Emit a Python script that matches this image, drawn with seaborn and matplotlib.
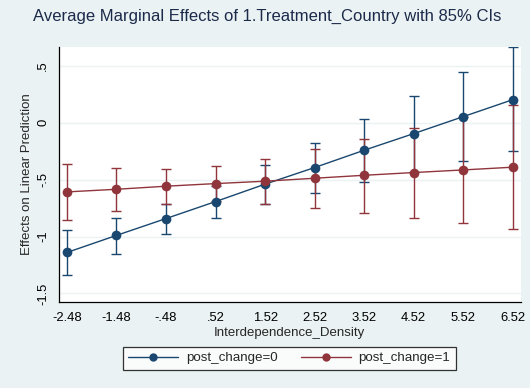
import numpy as np
import pandas as pd
import matplotlib
matplotlib.use("Agg")
import matplotlib.pyplot as plt
import seaborn as sns
from matplotlib.lines import Line2D

# ---- data ----
density = [-2.48, -1.48, -0.48, 0.52, 1.52, 2.52, 3.52, 4.52, 5.52, 6.52]
tick_labels = ["-2.48", "-1.48", "-.48", ".52", "1.52", "2.52", "3.52", "4.52", "5.52", "6.52"]

est_0 = [-1.140, -0.990, -0.842, -0.693, -0.540, -0.394, -0.242, -0.096, 0.053, 0.202]
lo_0 = [-1.342, -1.149, -0.976, -0.833, -0.713, -0.614, -0.520, -0.430, -0.339, -0.251]
hi_0 = [-0.944, -0.836, -0.710, -0.553, -0.371, -0.175, 0.030, 0.237, 0.447, 0.661]

est_1 = [-0.608, -0.585, -0.558, -0.535, -0.514, -0.488, -0.462, -0.438, -0.415, -0.391]
lo_1 = [-0.853, -0.775, -0.713, -0.690, -0.710, -0.745, -0.789, -0.833, -0.883, -0.935]
hi_1 = [-0.365, -0.395, -0.406, -0.377, -0.318, -0.234, -0.143, -0.044, 0.053, 0.153]

y_ticks = [0.5, 0, -0.5, -1, -1.5]
y_tick_labels = [".5", "0", "-.5", "-1", "-1.5"]

groups = ["post_change=0", "post_change=1"]
colors = {"post_change=0": "#1A476F", "post_change=1": "#90353B"}

df = pd.DataFrame({
    "density": density * 2,
    "effect": est_0 + est_1,
    "lo": lo_0 + lo_1,
    "hi": hi_0 + hi_1,
    "group": [groups[0]] * len(density) + [groups[1]] * len(density),
})

# ---- figure ----
sns.set_style("white")
plt.rcParams["font.family"] = ["Liberation Sans", "DejaVu Sans"]

bg = "#EAF2F3"
fig = plt.figure(figsize=(5.3, 3.88), dpi=100, facecolor=bg)
ax = fig.add_axes([0.1113, 0.2216, 0.8712, 0.658])
ax.set_facecolor("white")

# confidence intervals (caps)
for g in groups:
    sub = df[df["group"] == g]
    yerr = [sub["effect"] - sub["lo"], sub["hi"] - sub["effect"]]
    ax.errorbar(sub["density"], sub["effect"], yerr=yerr, fmt="none",
                ecolor=colors[g], elinewidth=1.0, capsize=3.5, capthick=1.0,
                zorder=2)

# connected point estimates
sns.lineplot(data=df, x="density", y="effect", hue="group", palette=colors,
             marker="o", markersize=7, markeredgewidth=0, linewidth=1.0,
             ax=ax, zorder=3, legend=False)

ax.set_xlim(-2.64, 6.68)
ax.set_ylim(-1.575, 0.667)
ax.set_xticks(density)
ax.set_xticklabels(tick_labels)
ax.set_yticks(y_ticks)
ax.set_yticklabels(y_tick_labels, rotation=90, va="center")
ax.tick_params(axis="both", direction="out", length=5, width=0.8,
               color="black", labelsize=9.4, labelcolor="black", pad=2)

for y in y_ticks:
    ax.axhline(y, color=bg, linewidth=1.0, zorder=0)

for side in ["top", "right"]:
    ax.spines[side].set_visible(False)
for side in ["left", "bottom"]:
    ax.spines[side].set_color("black")
    ax.spines[side].set_linewidth(0.9)

ax.set_xlabel("Interdependence_Density", fontsize=9.5, labelpad=2)
ax.set_ylabel("Effects on Linear Prediction", fontsize=9.5, labelpad=3)

fig.suptitle("Average Marginal Effects of 1.Treatment_Country with 85% CIs",
             x=0.505, y=0.978, fontsize=12.0, color="#1C2A4A")

# legend
handles = [Line2D([0], [0], color=colors[g], marker="o", markersize=6,
                  markeredgewidth=0, linewidth=1.0) for g in groups]
leg = fig.legend(handles, groups, loc="center", bbox_to_anchor=(0.546, 0.077),
                 ncol=2, frameon=True, fancybox=False, fontsize=9.6,
                 handlelength=3.75, handletextpad=0.6, columnspacing=1.7,
                 borderpad=0.4, edgecolor="black")
leg.get_frame().set_linewidth(0.9)

fig.savefig("out.png", dpi=100, facecolor=bg)
